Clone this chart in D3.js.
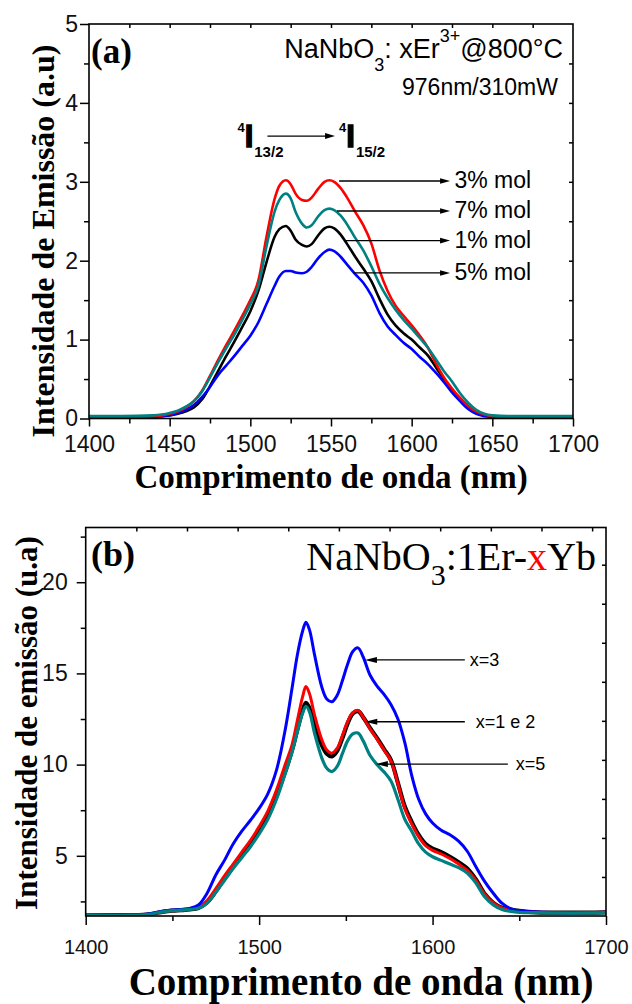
<!DOCTYPE html>
<html>
<head>
<meta charset="utf-8">
<script src="https://cdn.jsdelivr.net/npm/d3@7"></script>
<style>
    body { margin: 0; background: #fff; }
    svg { display: block; }
</style>
</head>
<body>
<svg id="chart" width="632" height="1004"></svg>
<script>
const SANS = '"Liberation Sans", Arial, sans-serif';
const SERIF = '"Liberation Serif", "Times New Roman", serif';

// ---------- panel (a) data: NaNbO3: xEr3+ @800°C ----------
const wlA = [1400, 1420, 1440,
    1445, 1450, 1455, 1460, 1465, 1470, 1475, 1480, 1485, 1490, 1495, 1500, 1505, 1510, 1515,
    1518, 1522, 1525, 1528, 1532, 1535, 1538, 1542, 1546, 1549, 1552, 1556,
    1560, 1565, 1570, 1575, 1580, 1585, 1590, 1595, 1600, 1605, 1610, 1615, 1620, 1625, 1630, 1635, 1640, 1645, 1650,
    1660, 1680, 1700];
const er3 = [0.02, 0.02, 0.03,
    0.04, 0.06, 0.09, 0.14, 0.22, 0.35, 0.54, 0.74, 0.93, 1.11, 1.30, 1.50, 1.75, 2.30, 2.78,
    2.95, 3.02, 2.97, 2.85, 2.77, 2.76, 2.80, 2.91, 3.00, 3.02, 3.00, 2.92,
    2.80, 2.62, 2.45, 2.22, 1.88, 1.62, 1.43, 1.30, 1.18, 1.05, 0.90, 0.70, 0.52, 0.38, 0.26, 0.16, 0.09, 0.05, 0.03,
    0.02, 0.02, 0.02];
const er7 = [0.03, 0.03, 0.04,
    0.05, 0.07, 0.10, 0.15, 0.22, 0.34, 0.52, 0.71, 0.89, 1.06, 1.25, 1.45, 1.68, 2.18, 2.62,
    2.77, 2.85, 2.79, 2.62, 2.47, 2.42, 2.45, 2.56, 2.64, 2.66, 2.64, 2.57,
    2.46, 2.29, 2.13, 1.93, 1.71, 1.53, 1.38, 1.25, 1.14, 1.02, 0.90, 0.75, 0.60, 0.47, 0.32, 0.20, 0.11, 0.06, 0.04,
    0.03, 0.03, 0.03];
const er1 = [0.01, 0.01, 0.02,
    0.03, 0.04, 0.06, 0.09, 0.14, 0.24, 0.41, 0.60, 0.79, 0.97, 1.16, 1.36, 1.62, 1.98, 2.30,
    2.40, 2.44, 2.38, 2.27, 2.20, 2.18, 2.21, 2.32, 2.41, 2.43, 2.41, 2.33,
    2.21, 2.05, 1.90, 1.74, 1.52, 1.32, 1.18, 1.08, 1.00, 0.90, 0.80, 0.65, 0.50, 0.36, 0.24, 0.14, 0.07, 0.04, 0.02,
    0.01, 0.01, 0.01];
const er5 = [0.01, 0.01, 0.02,
    0.03, 0.04, 0.07, 0.11, 0.17, 0.27, 0.40, 0.55, 0.67, 0.79, 0.92, 1.05, 1.22, 1.45, 1.68,
    1.80, 1.87, 1.87, 1.85, 1.84, 1.86, 1.92, 2.03, 2.11, 2.14, 2.12, 2.05,
    1.95, 1.83, 1.72, 1.56, 1.34, 1.17, 1.06, 0.96, 0.88, 0.78, 0.69, 0.58, 0.46, 0.33, 0.22, 0.12, 0.06, 0.03, 0.02,
    0.01, 0.01, 0.01];

const xTicksA = [1400, 1450, 1500, 1550, 1600, 1650, 1700];
const xMinorA = [1425, 1475, 1525, 1575, 1625, 1675];
const yTicksA = [0, 1, 2, 3, 4, 5];
const yMinorA = [0.5, 1.5, 2.5, 3.5, 4.5];

// legend arrows of (a): label, arrow start (nm), arrow height (a.u)
const labelsA = ['3% mol', '7% mol', '1% mol', '5% mol'];
const arrowFromA = [1555, 1553.7, 1558.7, 1563.6];
const arrowYA = [3.01, 2.63, 2.255, 1.845];

// ---------- panel (b) data: NaNbO3:1Er-xYb ----------
const wlB = [1400, 1420, 1435,
    1445, 1450, 1455, 1460, 1465, 1470, 1475, 1480, 1485, 1490, 1495, 1500, 1505, 1510, 1515,
    1519, 1522, 1525, 1527, 1529, 1532, 1536, 1539, 1542, 1545, 1548, 1551, 1554, 1557, 1560,
    1564, 1568, 1572, 1576, 1580, 1584, 1588, 1592, 1596, 1600,
    1605, 1610, 1615, 1620, 1625, 1630, 1635, 1640, 1645, 1650,
    1660, 1680, 1700];
const yb3 = [1.75, 1.77, 1.80,
    1.97, 2.03, 2.06, 2.12, 2.30, 2.95, 3.95, 4.75, 5.65, 6.35, 6.95, 7.60, 8.40, 9.70, 11.9,
    14.2, 16.0, 17.3, 17.8, 17.4, 16.0, 14.3, 13.6, 13.45, 13.8, 14.6, 15.5, 16.2, 16.4, 15.9,
    14.9, 14.3, 13.85, 13.3, 12.5, 11.2, 9.4, 8.1, 7.3, 6.8,
    6.4, 6.15, 5.8, 5.25, 4.4, 3.6, 2.95, 2.4, 2.1, 1.98,
    1.92, 1.88, 1.90];
const yb1 = [1.72, 1.74, 1.78,
    1.94, 1.99, 2.02, 2.06, 2.17, 2.55, 3.20, 3.90, 4.55, 5.20, 5.85, 6.60, 7.45, 8.60, 10.0,
    11.1, 12.4, 13.7, 14.28, 13.9, 12.7, 11.4, 10.8, 10.63, 10.9, 11.6, 12.35, 12.85, 12.97, 12.6,
    11.95, 11.4, 10.8, 10.2, 8.95, 7.6, 6.75, 6.05, 5.55, 5.3,
    5.1, 4.85, 4.55, 4.2, 3.65, 2.9, 2.42, 2.15, 2.05, 1.98,
    1.90, 1.88, 1.90];
const yb2 = [1.72, 1.74, 1.78,
    1.94, 1.99, 2.02, 2.06, 2.14, 2.45, 3.05, 3.75, 4.40, 5.00, 5.65, 6.35, 7.20, 8.30, 9.60,
    10.8, 11.9, 12.95, 13.39, 13.1, 12.1, 11.1, 10.6, 10.45, 10.75, 11.45, 12.25, 12.8, 12.93, 12.6,
    12.0, 11.45, 10.85, 10.25, 9.0, 7.7, 6.85, 6.15, 5.65, 5.4,
    5.2, 4.95, 4.65, 4.3, 3.7, 2.92, 2.42, 2.15, 2.05, 1.98,
    1.90, 1.88, 1.90];
const yb5 = [1.72, 1.74, 1.78,
    1.94, 1.99, 2.02, 2.06, 2.12, 2.40, 3.00, 3.65, 4.30, 4.90, 5.50, 6.20, 7.00, 8.10, 9.50,
    10.7, 11.8, 12.8, 13.2, 12.9, 11.7, 10.4, 9.8, 9.62, 9.9, 10.6, 11.3, 11.68, 11.73, 11.3,
    10.5, 10.0, 9.6, 9.1, 8.1, 7.0, 6.35, 5.65, 5.2, 4.95,
    4.75, 4.55, 4.35, 4.05, 3.5, 2.75, 2.3, 2.05, 1.95, 1.90,
    1.88, 1.86, 1.88];

const xTicksB = [1400, 1500, 1600, 1700];
const xMinorB = [1450, 1550, 1650];
const yTicksB = [5, 10, 15, 20];
const yMinorB = [2.5, 7.5, 12.5, 17.5, 22.5];

// legend arrows of (b): label, arrow tail (nm), arrow tip (nm), height
const labelsB = ['x=3', 'x=1 e 2', 'x=5'];
const arrowTailB = [1618.6, 1618.6, 1643.4];
const arrowTipB = [1561.0, 1561.2, 1567.3];
const arrowYB = [15.74, 12.35, 10.03];
const labelGapB = [5, 11, 8];

const svg = d3.select('#chart');

function arrow(g, x1, y1, x2, y2, len, half) {
    // line from (x1,y1) to tip (x2,y2), filled head at the tip
    const dir = Math.sign(x2 - x1);
    g.append('line')
        .attr('x1', x1).attr('y1', y1)
        .attr('x2', x2 - dir * len * 0.8).attr('y2', y2)
        .attr('stroke', '#000').attr('stroke-width', 1.3);
    g.append('path')
        .attr('d', `M${x2},${y2} L${x2 - dir * len},${y2 - half} L${x2 - dir * len},${y2 + half} Z`)
        .attr('fill', '#000');
}

function styleAxis(g, size, family) {
    g.select('.domain').remove();
    g.selectAll('line').attr('stroke', '#000').attr('stroke-width', 1.5);
    g.attr('font-size', size).attr('font-family', family);
    g.selectAll('text').attr('fill', '#111');
}

function frame(g, x, y) {
    g.append('rect')
        .attr('x', x.range()[0]).attr('y', y.range()[1])
        .attr('width', x.range()[1] - x.range()[0])
        .attr('height', y.range()[0] - y.range()[1])
        .attr('fill', 'none').attr('stroke', '#000').attr('stroke-width', 1.6);
}

// ================= panel (a) =================
const xA = d3.scaleLinear().domain([1400, 1700]).range([89, 573]);
const yA = d3.scaleLinear().domain([0, 5]).range([418.5, 24]);
const gA = svg.append('g');

gA.append('clipPath').attr('id', 'clipA').append('rect')
    .attr('x', 89).attr('y', 24).attr('width', 484).attr('height', 394.5);

const lineA = d3.line()
    .x(d => xA(d[0])).y(d => yA(d[1]))
    .curve(d3.curveMonotoneX);

const seriesA = [
    {values: er1, color: '#000000'},
    {values: er5, color: '#0000ff'},
    {values: er3, color: '#ff0000'},
    {values: er7, color: '#008080'},
];
gA.append('g').attr('clip-path', 'url(#clipA)')
    .selectAll('path')
    .data(seriesA)
    .enter().append('path')
    .attr('d', s => lineA(wlA.map((w, i) => [w, s.values[i]])))
    .attr('fill', 'none')
    .attr('stroke', s => s.color)
    .attr('stroke-width', 2.6)
    .attr('stroke-linejoin', 'round');

gA.append('g').attr('transform', `translate(0,${yA(0)})`)
    .call(d3.axisBottom(xA).tickValues(xTicksA).tickSize(8).tickPadding(9).tickFormat(d3.format('d')))
    .call(g => styleAxis(g, 23, SANS));
gA.append('g').attr('transform', `translate(0,${yA(0)})`)
    .call(d3.axisBottom(xA).tickValues(xMinorA).tickSize(5).tickFormat(''))
    .call(g => styleAxis(g, 10, SANS));
gA.append('g').attr('transform', `translate(${xA(1400)},0)`)
    .call(d3.axisLeft(yA).tickValues(yTicksA).tickSize(9).tickPadding(2).tickFormat(d3.format('d')))
    .call(g => styleAxis(g, 23, SANS));
gA.append('g').attr('transform', `translate(${xA(1400)},0)`)
    .call(d3.axisLeft(yA).tickValues(yMinorA).tickSize(5).tickFormat(''))
    .call(g => styleAxis(g, 10, SANS));
gA.append('g').attr('transform', `translate(0,${yA(5)})`)
    .call(d3.axisTop(xA).tickValues(xMinorA.concat(xTicksA.slice(1, -1))).tickSize(-4).tickFormat(''))
    .call(g => styleAxis(g, 10, SANS));
gA.append('g').attr('transform', `translate(${xA(1700)},0)`)
    .call(d3.axisRight(yA).tickValues(yMinorA.concat(yTicksA.slice(1, -1))).tickSize(-4).tickFormat(''))
    .call(g => styleAxis(g, 10, SANS));
frame(gA, xA, yA);

gA.append('text')
    .attr('x', 91).attr('y', 63)
    .attr('font-family', SERIF).attr('font-weight', 'bold').attr('font-size', 35)
    .text('(a)');

const titleA = gA.append('text')
    .attr('x', 563).attr('y', 58)
    .attr('text-anchor', 'end')
    .attr('font-family', SANS).attr('font-size', 27);
titleA.append('tspan').text('NaNbO');
titleA.append('tspan').attr('font-size', 18).attr('dy', 13).text('3');
titleA.append('tspan').attr('dy', -13).text(': xEr');
titleA.append('tspan').attr('font-size', 18).attr('dy', -16).text('3+');
titleA.append('tspan').attr('dy', 16).text('@800°C');

gA.append('text')
    .attr('x', 558).attr('y', 95)
    .attr('text-anchor', 'end')
    .attr('font-family', SANS).attr('font-size', 23)
    .text('976nm/310mW');

// transition 4I13/2 -> 4I15/2
const transFrom = 1510.6, transTo = 1552.5, transY = 3.58;
function level(x, y, sub) {
    const t = gA.append('text')
        .attr('x', x).attr('y', y)
        .attr('font-family', SANS).attr('font-weight', 'bold');
    t.append('tspan').attr('font-size', 13).attr('dy', -15).text('4');
    t.append('tspan').attr('font-size', 31).attr('dy', 15)
        .attr('stroke', '#000').attr('stroke-width', 1.4).text('I');
    t.append('tspan').attr('font-size', 15).attr('dy', 10).attr('dx', 1).text(sub);
}
level(xA(transFrom) - 30, yA(transY) + 11, '13/2');
arrow(gA, xA(transFrom), yA(transY), xA(transTo), yA(transY), 10, 3);
level(xA(transTo) + 4, yA(transY) + 11, '15/2');

labelsA.forEach((lab, i) => {
    arrow(gA, xA(arrowFromA[i]), yA(arrowYA[i]), xA(1623.8), yA(arrowYA[i]), 10, 2.8);
    gA.append('text')
        .attr('x', xA(1626.5)).attr('y', yA(arrowYA[i]) + 7)
        .attr('font-family', SANS).attr('font-size', 23)
        .text(lab);
});

gA.append('text')
    .attr('transform', 'translate(54,241) rotate(-90)')
    .attr('text-anchor', 'middle')
    .attr('font-family', SERIF).attr('font-weight', 'bold').attr('font-size', 32)
    .text('Intensidade de Emissão (a.u)');
gA.append('text')
    .attr('x', 331).attr('y', 488)
    .attr('text-anchor', 'middle')
    .attr('font-family', SERIF).attr('font-weight', 'bold').attr('font-size', 33)
    .text('Comprimento de onda (nm)');

// ================= panel (b) =================
const xB = d3.scaleLinear().domain([1400, 1700]).range([85.7, 606]);
const yB = d3.scaleLinear().domain([1.7, 23]).range([916, 527.5]);
const gB = svg.append('g');

gB.append('clipPath').attr('id', 'clipB').append('rect')
    .attr('x', 85.7).attr('y', 527.5).attr('width', 520.3).attr('height', 388.5);

const lineB = d3.line()
    .x(d => xB(d[0])).y(d => yB(d[1]))
    .curve(d3.curveCatmullRom.alpha(0.5));

const seriesB = [
    {values: yb2, color: '#000000', width: 4.2},
    {values: yb1, color: '#ff0000', width: 3},
    {values: yb3, color: '#0000ff', width: 3},
    {values: yb5, color: '#008080', width: 3.2},
];
gB.append('g').attr('clip-path', 'url(#clipB)')
    .selectAll('path')
    .data(seriesB)
    .enter().append('path')
    .attr('d', s => lineB(wlB.map((w, i) => [w, s.values[i]])))
    .attr('fill', 'none')
    .attr('stroke', s => s.color)
    .attr('stroke-width', s => s.width)
    .attr('stroke-linejoin', 'round');

gB.append('g').attr('transform', `translate(0,${yB.range()[0]})`)
    .call(d3.axisBottom(xB).tickValues(xTicksB).tickSize(9).tickPadding(15).tickFormat(d3.format('d')))
    .call(g => styleAxis(g, 20, SANS));
gB.append('g').attr('transform', `translate(0,${yB.range()[0]})`)
    .call(d3.axisBottom(xB).tickValues(xMinorB).tickSize(5).tickFormat(''))
    .call(g => styleAxis(g, 10, SANS));
gB.append('g').attr('transform', `translate(${xB(1400)},0)`)
    .call(d3.axisLeft(yB).tickValues(yTicksB).tickSize(9).tickPadding(9).tickFormat(d3.format('d')))
    .call(g => styleAxis(g, 23, SANS));
gB.append('g').attr('transform', `translate(${xB(1400)},0)`)
    .call(d3.axisLeft(yB).tickValues(yMinorB).tickSize(5).tickFormat(''))
    .call(g => styleAxis(g, 10, SANS));
// mirrored axes of (b) carry their own (unlabelled) tick spacing
gB.append('g').attr('transform', `translate(0,${yB.range()[1]})`)
    .call(d3.axisTop(xB).tickValues(d3.range(1429.2, 1700, 29.2)).tickSize(-4).tickFormat(''))
    .call(g => styleAxis(g, 10, SANS));
gB.append('g').attr('transform', `translate(${xB(1700)},0)`)
    .call(d3.axisRight(yB).tickValues(d3.range(3.84, 23, 2.14)).tickSize(-4).tickFormat(''))
    .call(g => styleAxis(g, 10, SANS));
frame(gB, xB, yB);

gB.append('text')
    .attr('x', 91).attr('y', 566)
    .attr('font-family', SERIF).attr('font-weight', 'bold').attr('font-size', 36)
    .text('(b)');

const titleB = gB.append('text')
    .attr('x', 596).attr('y', 570)
    .attr('text-anchor', 'end')
    .attr('font-family', SERIF).attr('font-size', 40);
titleB.append('tspan').text('NaNbO');
titleB.append('tspan').attr('font-size', 30).attr('dy', 15).text('3');
titleB.append('tspan').attr('dy', -15).text(':1Er-');
titleB.append('tspan').attr('fill', '#ff0000').text('x');
titleB.append('tspan').text('Yb');

labelsB.forEach((lab, i) => {
    arrow(gB, xB(arrowTailB[i]), yB(arrowYB[i]), xB(arrowTipB[i]), yB(arrowYB[i]), 12, 3);
    gB.append('text')
        .attr('x', xB(arrowTailB[i]) + labelGapB[i]).attr('y', yB(arrowYB[i]) + 6)
        .attr('font-family', SANS).attr('font-size', 18)
        .text(lab);
});

gB.append('text')
    .attr('transform', 'translate(37,723) rotate(-90)')
    .attr('text-anchor', 'middle')
    .attr('font-family', SERIF).attr('font-weight', 'bold').attr('font-size', 31)
    .text('Intensidade de emissão (u.a)');
gB.append('text')
    .attr('x', 361).attr('y', 995)
    .attr('text-anchor', 'middle')
    .attr('font-family', SERIF).attr('font-weight', 'bold').attr('font-size', 39)
    .text('Comprimento de onda (nm)');
</script>
</body>
</html>
